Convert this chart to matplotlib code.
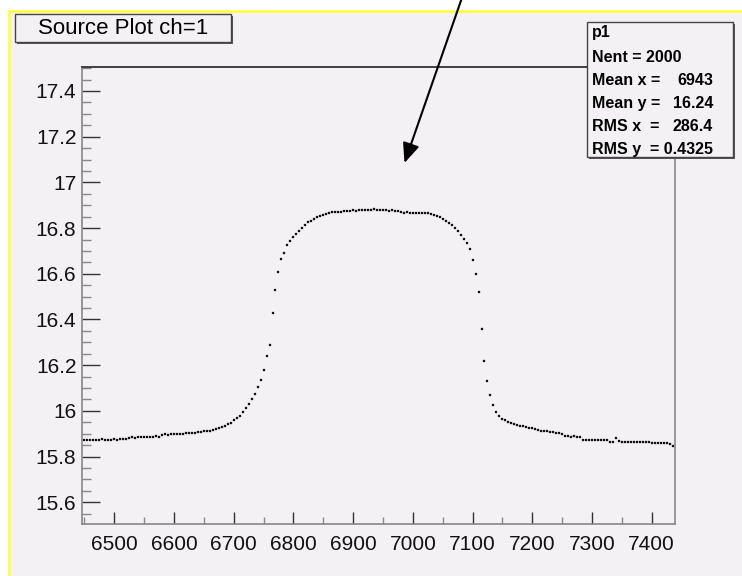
import numpy as np
import matplotlib
matplotlib.use('Agg')
import matplotlib.pyplot as plt
from matplotlib.patches import Rectangle
from matplotlib.ticker import MultipleLocator

plt.rcParams['font.family'] = ['Liberation Sans', 'DejaVu Sans']

# profile bins (width 5) and mean values
x_first, x_step = 6450, 5
prof_y = [
    15.872, 15.874, 15.873, 15.871, 15.874, 15.873, 15.875, 15.872, 15.874, 15.873,
    15.875, 15.874, 15.876, 15.875, 15.877, 15.880, 15.884, 15.883, 15.885, 15.884,
    15.886, 15.885, 15.887, 15.886, 15.888, 15.887, 15.895, 15.897, 15.896, 15.898,
    15.899, 15.900, 15.901, 15.901, 15.902, 15.902, 15.902, 15.904, 15.906, 15.908,
    15.910, 15.912, 15.914, 15.916, 15.919, 15.923, 15.928, 15.934, 15.941, 15.949,
    15.958, 15.968, 15.979, 15.995, 16.012, 16.030, 16.050, 16.075, 16.105, 16.135,
    16.180, 16.240, 16.290, 16.430, 16.530, 16.610, 16.665, 16.690, 16.725, 16.745,
    16.760, 16.775, 16.787, 16.800, 16.815, 16.825, 16.833, 16.840, 16.847, 16.853,
    16.858, 16.862, 16.866, 16.870, 16.871, 16.872, 16.872, 16.874, 16.873, 16.876,
    16.877, 16.876, 16.878, 16.877, 16.879, 16.878, 16.880, 16.883, 16.879, 16.877,
    16.877, 16.878, 16.876, 16.877, 16.876, 16.874, 16.870, 16.868, 16.869, 16.868,
    16.868, 16.867, 16.868, 16.866, 16.865, 16.864, 16.860, 16.858, 16.854, 16.850,
    16.838, 16.832, 16.824, 16.815, 16.802, 16.787, 16.768, 16.752, 16.735, 16.710,
    16.660, 16.600, 16.520, 16.360, 16.220, 16.130, 16.070, 16.025, 15.995, 15.978,
    15.966, 15.958, 15.951, 15.946, 15.942, 15.938, 15.935, 15.932, 15.929, 15.926,
    15.923, 15.920, 15.917, 15.914, 15.912, 15.910, 15.908, 15.906, 15.905, 15.904,
    15.898, 15.889, 15.888, 15.887, 15.888, 15.887, 15.886, 15.874, 15.873, 15.873,
    15.872, 15.873, 15.872, 15.873, 15.872, 15.873, 15.866, 15.866, 15.880, 15.867,
    15.866, 15.866, 15.865, 15.866, 15.866, 15.865, 15.866, 15.866, 15.865, 15.866,
    15.860, 15.859, 15.859, 15.858, 15.859, 15.858, 15.856, 15.847,
]
prof_x = x_first + x_step * np.arange(len(prof_y))

title = 'Source Plot ch=1'
stats_name = 'p1'
stats_rows = [('Nent = 2000', ''), ('Mean x =', '6943'), ('Mean y =', '16.24'),
              ('RMS x  =', '286.4'), ('RMS y', '= 0.4325')]

bg = '#f4f1f4'
W, H = 742, 576

fig = plt.figure(figsize=(7.42, 5.76), dpi=100, facecolor='white')

# pad area with yellow border (top / left visible)
fig.patches.append(Rectangle((8.5, -5), 740, 570.5, transform=None,
                             facecolor=bg, edgecolor='#ffff33', lw=1.8, zorder=-5))

ax = fig.add_axes([82 / W, 1 - 524 / H, (675 - 82) / W, (524 - 67) / H])
ax.set_facecolor(bg)
ax.plot(prof_x, prof_y, linestyle='none', marker='s', markersize=1.7,
        color='#111111', markeredgewidth=0.2)

ax.set_xlim(6446, 7439)
ax.set_ylim(15.505, 17.505)

ax.xaxis.set_major_locator(MultipleLocator(100))
ax.xaxis.set_minor_locator(MultipleLocator(50))
ax.yaxis.set_major_locator(MultipleLocator(0.2))
ax.yaxis.set_minor_locator(MultipleLocator(0.05))
ax.set_yticks(np.arange(15.6, 17.5, 0.2))
ax.set_yticklabels(['15.6', '15.8', '16', '16.2', '16.4', '16.6', '16.8', '17', '17.2', '17.4'])

ax.tick_params(axis='both', which='both', direction='in', top=False, right=False,
               labelsize=15, colors='#111111')
ax.tick_params(axis='y', which='major', length=13, width=1, color='#333333', pad=4)
ax.tick_params(axis='y', which='minor', length=6.5, width=1, color='#888888')
ax.tick_params(axis='x', which='major', length=8.5, width=1, color='#333333', pad=8)
ax.tick_params(axis='x', which='minor', length=5, width=1, color='#888888')

for side in ['left', 'bottom', 'right']:
    ax.spines[side].set_color('#888888')
    ax.spines[side].set_linewidth(1.2)
ax.spines['top'].set_color('#222222')
ax.spines['top'].set_linewidth(1.2)

# title box with shadow
fig.patches.append(Rectangle((17, H - 44), 216, 28, transform=None,
                             facecolor='#555555', edgecolor='none', zorder=5))
fig.patches.append(Rectangle((15, H - 42), 216, 28, transform=None,
                             facecolor=bg, edgecolor='#444444', lw=1, zorder=6))
fig.text(123 / W, 1 - 28 / H, title, ha='center', va='center', fontsize=16, zorder=7)

# stats box with shadow
fig.patches.append(Rectangle((589, H - 159), 146, 135, transform=None,
                             facecolor='#555555', edgecolor='none', zorder=5))
fig.patches.append(Rectangle((587, H - 157), 146, 135, transform=None,
                             facecolor=bg, edgecolor='#444444', lw=1, zorder=6))
fig.text(592 / W, 1 - 33 / H, stats_name, ha='left', va='center', fontsize=11.5,
         fontweight='bold', zorder=7)
for i, (lab, val) in enumerate(stats_rows):
    yy = 1 - (57 + 23.2 * i) / H
    fig.text(592 / W, yy, lab, ha='left', va='center', fontsize=11.5,
             fontweight='bold', zorder=7)
    if val:
        fig.text(713 / W, yy, val, ha='right', va='center', fontsize=11.5,
                 fontweight='bold', zorder=7)

# arrow pointing at the plateau
ax.annotate('', xy=(6986, 17.085), xycoords='data',
            xytext=(462 / W, 1.004), textcoords='figure fraction',
            arrowprops=dict(arrowstyle='-|>,head_length=0.4,head_width=0.17',
                            mutation_scale=30, color='black', lw=1.5,
                            shrinkA=0, shrinkB=0),
            annotation_clip=False)

fig.savefig('out.png', dpi=100, facecolor='white')
